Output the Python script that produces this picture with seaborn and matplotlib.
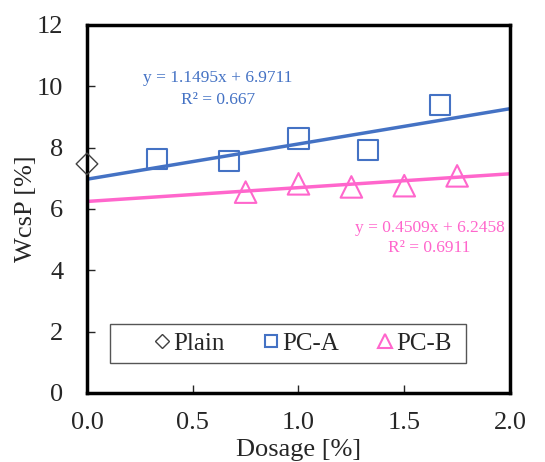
import numpy as np
import pandas as pd
import matplotlib
matplotlib.use("Agg")
import matplotlib.pyplot as plt
from matplotlib.lines import Line2D
from matplotlib.patches import Rectangle
import seaborn as sns

# data
plain_x = [0.0]
plain_y = [7.47]
pca_x = [0.33, 0.67, 1.00, 1.33, 1.67]
pca_y = [7.62, 7.57, 8.30, 7.92, 9.38]
pcb_x = [0.75, 1.00, 1.25, 1.50, 1.75]
pcb_y = [6.55, 6.82, 6.72, 6.76, 7.08]

# trendline coefficients printed on the chart
fit_a = (1.1495, 6.9711, 0.667)
fit_b = (0.4509, 6.2458, 0.6911)

blue = "#4472C4"
pink = "#FF66CC"
grey = "#404040"

sns.set_style("white")
plt.rcParams['font.family'] = ['Liberation Serif', 'DejaVu Serif']

fig = plt.figure(figsize=(5.45, 4.62), dpi=100)
ax = fig.add_axes([0.1596, 0.1494, 0.7762, 0.7965])

# trendlines over the full x range
xs = [0.0, 2.0]
line_a = pd.DataFrame({"x": xs, "y": [fit_a[0] * v + fit_a[1] for v in xs]})
line_b = pd.DataFrame({"x": xs, "y": [fit_b[0] * v + fit_b[1] for v in xs]})
sns.lineplot(data=line_a, x="x", y="y", color=blue, lw=2.5, ax=ax, zorder=2)
sns.lineplot(data=line_b, x="x", y="y", color=pink, lw=2.5, ax=ax, zorder=2)

sns.scatterplot(x=plain_x, y=plain_y, marker="D", s=11**2, facecolors="none",
                edgecolor=grey, linewidth=1.0, ax=ax, zorder=3, clip_on=False)
sns.scatterplot(x=pca_x, y=pca_y, marker="s", s=14.5**2, facecolors="none",
                edgecolor=blue, linewidth=1.5, ax=ax, zorder=3)
sns.scatterplot(x=pcb_x, y=pcb_y, marker="^", s=15.5**2, facecolors="none",
                edgecolor=pink, linewidth=1.5, ax=ax, zorder=3)

ax.text(0.62, 10.27, "y = 1.1495x + 6.9711", color=blue, fontsize=12.5,
        ha="center", va="center")
ax.text(0.62, 9.55, "R² = 0.667", color=blue, fontsize=12.5,
        ha="center", va="center")
ax.text(1.62, 5.38, "y = 0.4509x + 6.2458", color=pink, fontsize=12.5,
        ha="center", va="center")
ax.text(1.62, 4.73, "R² = 0.6911", color=pink, fontsize=12.5,
        ha="center", va="center")

ax.set_xlim(0, 2.0)
ax.set_ylim(0, 12)
ax.set_xticks([0.0, 0.5, 1.0, 1.5, 2.0])
ax.set_xticklabels(["0.0", "0.5", "1.0", "1.5", "2.0"])
ax.set_yticks([0, 2, 4, 6, 8, 10, 12])
ax.tick_params(axis="x", direction="in", length=6, width=1, pad=14,
               labelsize=19, bottom=True)
ax.tick_params(axis="y", direction="in", length=6, width=1, pad=17,
               labelsize=19, left=True)
for s in ax.spines.values():
    s.set_color("black")
    s.set_linewidth(2.5)

ax.set_xlabel("Dosage [%]", fontsize=19, labelpad=3)
ax.set_ylabel("WcsP [%]", fontsize=19, labelpad=0)

# legend box drawn separately so the entries sit centred in a wide frame
box = Rectangle((0.054, 0.082), 0.841, 0.106, transform=ax.transAxes,
                facecolor="white", edgecolor="#555555", lw=1.0, zorder=4)
ax.add_patch(box)
handles = [
    Line2D([], [], ls="none", marker="D", ms=7, mfc="none", mec=grey, mew=1.0),
    Line2D([], [], ls="none", marker="s", ms=9, mfc="none", mec=blue, mew=1.5),
    Line2D([], [], ls="none", marker="^", ms=10, mfc="none", mec=pink, mew=1.5),
]
leg = ax.legend(handles, ["Plain", "PC-A", "PC-B"], ncol=3,
                loc="center", bbox_to_anchor=(0.51, 0.135),
                fontsize=18, frameon=False, borderaxespad=0,
                handlelength=0.7, handletextpad=0.1, columnspacing=1.5)
leg.set_zorder(5)

fig.savefig("out.png", dpi=100)
